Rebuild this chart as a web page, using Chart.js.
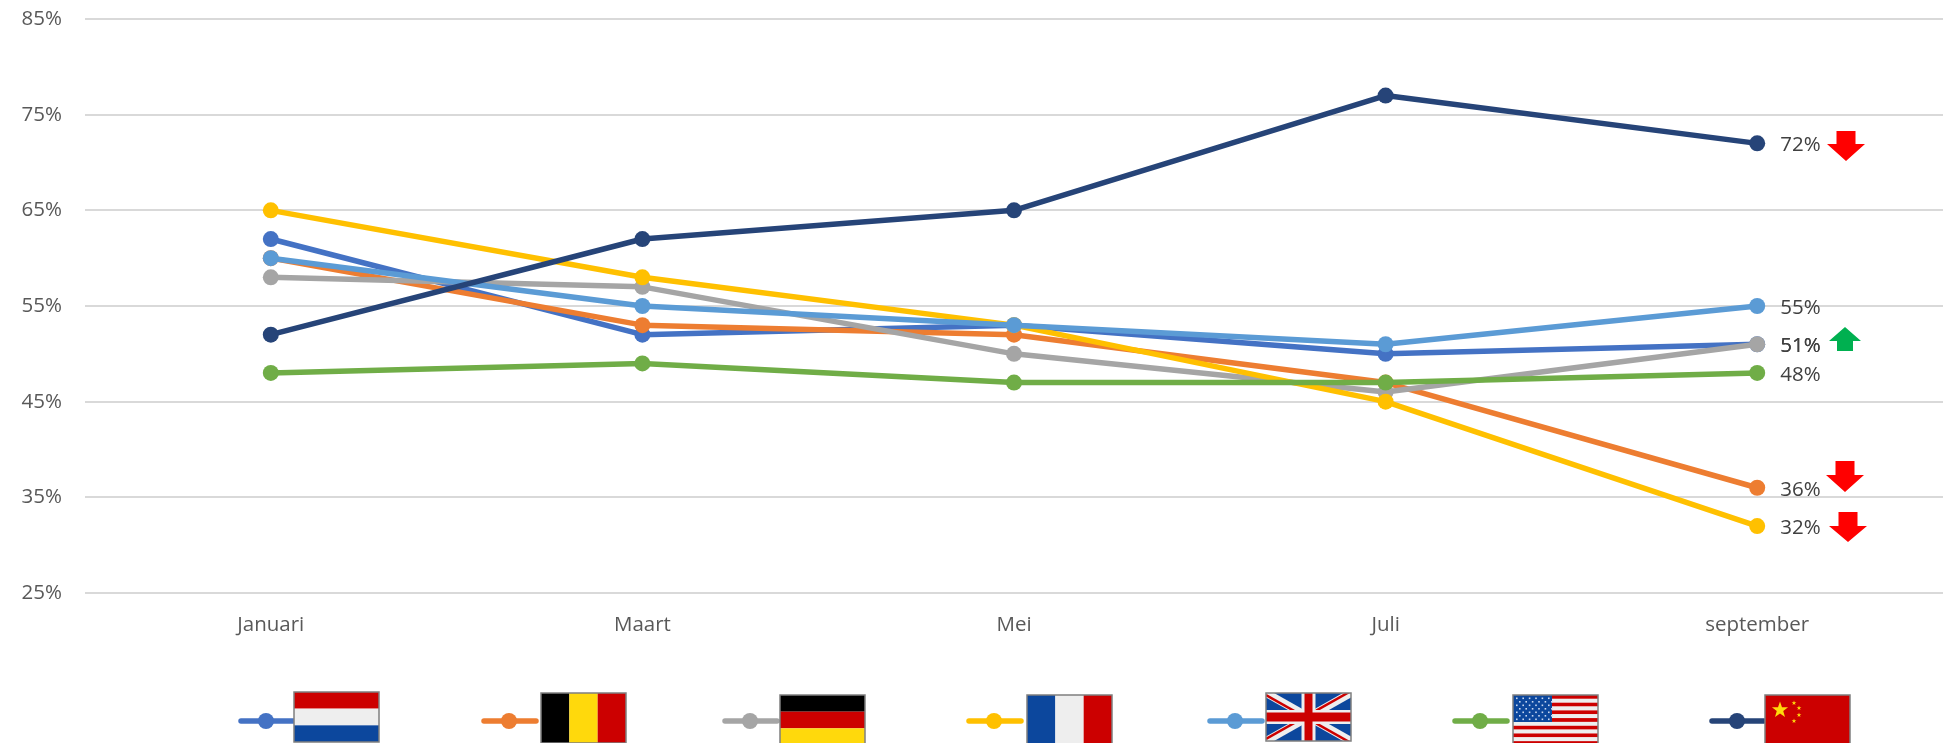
<!DOCTYPE html>
<html lang="en">
<head>
  <meta charset="UTF-8">
  <title>Landen per maand</title>
  <script src="https://cdn.jsdelivr.net/npm/chart.js"></script>
  <style>
    * { margin: 0; padding: 0; }
    body { background: #fff; overflow: hidden; }
    canvas { display: block; }
  </style>
</head>
<body>
  <canvas id="chart" width="1944" height="743"></canvas>
  <script>
    // Data
    const months = ['Januari', 'Maart', 'Mei', 'Juli', 'september'];
    const netherlands = [62, 52, 53, 50, 51];
    const belgium = [60, 53, 52, 47, 36];
    const germany = [58, 57, 50, 46, 51];
    const france = [65, 58, 53, 45, 32];
    const britain = [60, 55, 53, 51, 55];
    const usa = [48, 49, 47, 47, 48];
    const china = [52, 62, 65, 77, 72];
    const countries = ['Nederland', 'België', 'Duitsland', 'Frankrijk', 'Verenigd Koninkrijk', 'Verenigde Staten', 'China'];
    const tickValues = [25, 35, 45, 55, 65, 75, 85];

    const colors = ['#4472C4', '#ED7D31', '#A5A5A5', '#FFC000', '#5B9BD5', '#70AD47', '#264478'];
    const allSeries = [netherlands, belgium, germany, france, britain, usa, china];

    const FONT = '"Open Sans", sans-serif';
    const RED = '#CC0000', WHITE = '#EEEEEE', BLUE = '#0C479D', GOLD = '#FFD90C';

    // Flags
    function stripesH(c, x, y, w, h, cols) {
      cols.forEach((col, i) => { c.fillStyle = col; c.fillRect(x, y + i * h / cols.length, w, h / cols.length); });
    }
    function stripesV(c, x, y, w, h, cols) {
      cols.forEach((col, i) => { c.fillStyle = col; c.fillRect(x + i * w / cols.length, y, w / cols.length, h); });
    }
    function star(c, cx, cy, r) {
      c.beginPath();
      for (let i = 0; i < 10; i++) {
        const a = -Math.PI / 2 + i * Math.PI / 5, q = i % 2 ? r * 0.4 : r;
        c.lineTo(cx + q * Math.cos(a), cy + q * Math.sin(a));
      }
      c.closePath();
      c.fill();
    }
    function diagonal(c, x0, y0, x1, y1, col, lw) {
      c.strokeStyle = col; c.lineWidth = lw;
      c.beginPath(); c.moveTo(x0, y0); c.lineTo(x1, y1); c.stroke();
    }
    function flagUK(c, x, y, w, h) {
      h = 48;
      c.fillStyle = BLUE; c.fillRect(x, y, w, h);
      c.save();
      c.beginPath(); c.rect(x, y, w, h); c.clip();
      diagonal(c, x, y, x + w, y + h, WHITE, 8);
      diagonal(c, x + w, y, x, y + h, WHITE, 8);
      diagonal(c, x, y + 2, x + w, y + h + 2, RED, 2.5);
      diagonal(c, x + w, y - 2, x, y + h - 2, RED, 2.5);
      c.restore();
      c.fillStyle = WHITE;
      c.fillRect(x + w / 2 - 7, y, 14, h);
      c.fillRect(x, y + h / 2 - 7, w, 14);
      c.fillStyle = RED;
      c.fillRect(x + w / 2 - 4, y, 8, h);
      c.fillRect(x, y + h / 2 - 4.5, w, 9);
    }
    function flagUS(c, x, y, w, h) {
      const stripes = [];
      for (let i = 0; i < 13; i++) stripes.push(i % 2 ? WHITE : RED);
      stripesH(c, x, y, w, h, stripes);
      c.fillStyle = BLUE; c.fillRect(x, y, 39, 27);
      c.fillStyle = '#C9D8F0';
      for (let r = 0; r < 7; r++) {
        for (let s = 0; s < 6; s++) c.fillRect(x + 3 + s * 6.4 + (r % 2) * 3, y + 2.5 + r * 3.5, 1.6, 1.6);
      }
    }
    function flagCN(c, x, y, w, h) {
      c.fillStyle = RED; c.fillRect(x, y, w, h);
      c.fillStyle = GOLD;
      star(c, x + 15, y + 15, 8.5);
      star(c, x + 29, y + 8, 2.5);
      star(c, x + 34, y + 13, 2.5);
      star(c, x + 34, y + 20, 2.5);
      star(c, x + 29, y + 26, 2.5);
    }
    const flags = [
      (c, x, y, w, h) => stripesH(c, x, y, w, h, [RED, WHITE, BLUE]),
      (c, x, y, w, h) => stripesV(c, x, y, w, h, ['#000000', GOLD, RED]),
      (c, x, y, w, h) => stripesH(c, x, y, w, h, ['#000000', RED, GOLD]),
      (c, x, y, w, h) => stripesV(c, x, y, w, h, [BLUE, WHITE, RED]),
      flagUK, flagUS, flagCN
    ];

    // Legend row: line start, flag left, flag top
    const legendSlots = [[238, 294, 692], [481, 541, 693], [722, 780, 695], [966, 1027, 695], [1207, 1266, 693], [1452, 1513, 695], [1709, 1765, 695]];

    const flagLegend = {
      id: 'flagLegend',
      afterDraw(chart) {
        const c = chart.ctx;
        legendSlots.forEach((slot, i) => {
          const [lx, fx, fy] = slot, w = 85, h = i === 4 ? 48 : 50;
          c.save();
          c.strokeStyle = colors[i]; c.fillStyle = colors[i];
          c.lineWidth = 5.5; c.lineCap = 'round';
          c.beginPath(); c.moveTo(lx + 3, 721); c.lineTo(lx + 55, 721); c.stroke();
          c.beginPath(); c.arc(lx + 28, 721, 8, 0, Math.PI * 2); c.fill();
          c.restore();
          c.save();
          flags[i](c, fx, fy, w, h);
          c.strokeStyle = '#7F7F7F'; c.lineWidth = 1.5;
          c.strokeRect(fx, fy, w, h);
          c.restore();
        });
      }
    };

    // Labels behind the last point of each line
    const endLabels = {
      id: 'endLabels',
      afterDatasetsDraw(chart) {
        const c = chart.ctx;
        c.save();
        c.font = '20.5px ' + FONT;
        c.fillStyle = '#404040';
        c.textAlign = 'left';
        c.textBaseline = 'middle';
        chart.data.datasets.forEach((ds, i) => {
          const last = ds.data.length - 1;
          const pt = chart.getDatasetMeta(i).data[last];
          c.fillText(ds.data[last] + '%', pt.x + 23, pt.y + 2);
        });
        c.restore();
      }
    };

    // Block arrows next to the labels: x centre, tip y, direction
    const arrowShapes = [
      { cx: 1846, top: 131, bottom: 161, neck: 144, half: 19, shaft: 9.5, color: '#FF0000', up: false },
      { cx: 1845, top: 461, bottom: 492, neck: 475, half: 19, shaft: 9.5, color: '#FF0000', up: false },
      { cx: 1848, top: 512, bottom: 542, neck: 526, half: 19, shaft: 9.5, color: '#FF0000', up: false },
      { cx: 1845, top: 327, bottom: 351, neck: 341, half: 16, shaft: 8, color: '#00B050', up: true }
    ];
    const arrows = {
      id: 'arrows',
      afterDraw(chart) {
        const c = chart.ctx;
        arrowShapes.forEach(a => {
          c.fillStyle = a.color;
          c.beginPath();
          if (a.up) {
            c.moveTo(a.cx, a.top);
            c.lineTo(a.cx + a.half, a.neck);
            c.lineTo(a.cx + a.shaft, a.neck);
            c.lineTo(a.cx + a.shaft, a.bottom);
            c.lineTo(a.cx - a.shaft, a.bottom);
            c.lineTo(a.cx - a.shaft, a.neck);
            c.lineTo(a.cx - a.half, a.neck);
          } else {
            c.moveTo(a.cx - a.shaft, a.top);
            c.lineTo(a.cx + a.shaft, a.top);
            c.lineTo(a.cx + a.shaft, a.neck);
            c.lineTo(a.cx + a.half, a.neck);
            c.lineTo(a.cx, a.bottom);
            c.lineTo(a.cx - a.half, a.neck);
            c.lineTo(a.cx - a.shaft, a.neck);
          }
          c.closePath();
          c.fill();
        });
      }
    };

    new Chart(document.getElementById('chart'), {
      type: 'line',
      data: {
        labels: months,
        datasets: allSeries.map((values, i) => ({
          label: countries[i],
          data: values,
          borderColor: colors[i],
          backgroundColor: colors[i],
          borderWidth: 5.5,
          borderCapStyle: 'round',
          borderJoinStyle: 'round',
          pointRadius: 8,
          pointBorderWidth: 0,
          tension: 0,
          fill: false,
          order: allSeries.length - i
        }))
      },
      plugins: [endLabels, arrows, flagLegend],
      options: {
        responsive: false,
        animation: false,
        layout: { autoPadding: false, padding: { top: 19, right: 1 } },
        plugins: { legend: { display: false }, tooltip: { enabled: false } },
        scales: {
          x: {
            offset: true,
            grid: { display: false },
            border: { display: false },
            ticks: { color: '#595959', font: { family: FONT, size: 20.5 }, padding: 12, maxRotation: 0 },
            afterFit(scale) { scale.height = 150; scale.paddingLeft = 0; scale.paddingRight = 0; }
          },
          y: {
            min: 25,
            max: 85,
            afterBuildTicks(scale) { scale.ticks = tickValues.map(v => ({ value: v })); },
            grid: { color: '#D9D9D9', lineWidth: 2, drawTicks: false },
            border: { display: false },
            ticks: { color: '#595959', font: { family: FONT, size: 20.5 }, padding: 23, callback: v => v + '%' },
            afterFit(scale) { scale.width = 85; scale.paddingTop = 0; scale.paddingBottom = 0; }
          }
        }
      }
    });
  </script>
</body>
</html>
